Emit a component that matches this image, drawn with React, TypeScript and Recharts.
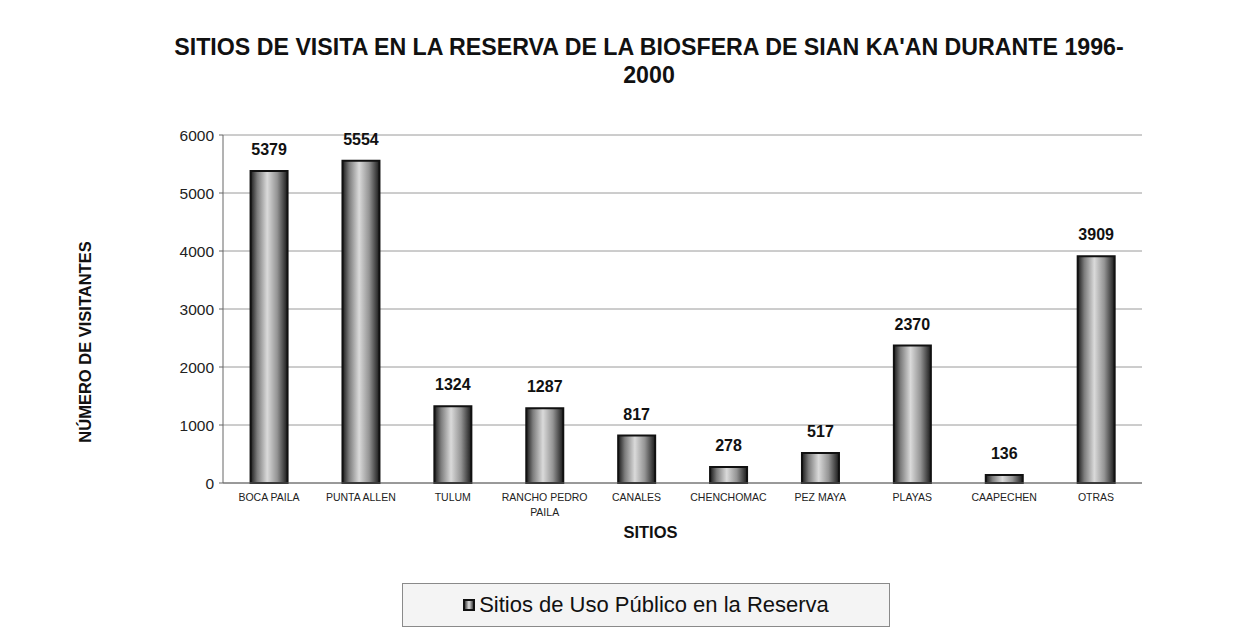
import { BarChart, Bar, XAxis, YAxis, CartesianGrid, Legend, LabelList } from 'recharts';

const sitios = ['BOCA PAILA', 'PUNTA ALLEN', 'TULUM', 'RANCHO PEDRO PAILA', 'CANALES', 'CHENCHOMAC', 'PEZ MAYA', 'PLAYAS', 'CAAPECHEN', 'OTRAS'];
const visitantes = [5379, 5554, 1324, 1287, 817, 278, 517, 2370, 136, 3909];
const yTicks = [0, 1000, 2000, 3000, 4000, 5000, 6000];

const data = sitios.map((sitio, i) => ({ sitio, visitantes: visitantes[i] }));

const FONT = 'Arial, "Liberation Sans", Helvetica, sans-serif';

// greedy wrap, ~14 chars per line fits the category width
function wrap(label: string, max = 14) {
  const lines: string[] = [];
  let cur = '';
  for (const w of label.split(' ')) {
    if (cur && (cur + ' ' + w).length > max) {
      lines.push(cur);
      cur = w;
    } else {
      cur = cur ? cur + ' ' + w : w;
    }
  }
  if (cur) lines.push(cur);
  return lines;
}

function SitioTick({ x, y, payload }: any) {
  return (
    <text x={x} y={y + 10} textAnchor="middle" fontSize={10.5} fill="#222" fontFamily={FONT}>
      {wrap(payload.value).map((line, i) => (
        <tspan key={i} x={x} dy={i === 0 ? 0 : 15}>{line}</tspan>
      ))}
    </text>
  );
}

function LegendBox() {
  return (
    <div style={{
      width: 488, height: 44, border: '1px solid #8a8a8a', background: '#f4f4f4', boxSizing: 'border-box',
      display: 'flex', alignItems: 'center', justifyContent: 'center', fontFamily: FONT, fontSize: 22, color: '#111',
    }}>
      <span style={{
        display: 'inline-block', width: 8, height: 8, border: '2px solid #111', marginRight: 4,
        background: 'linear-gradient(90deg, #444 0%, #e0e0e0 50%, #444 100%)',
      }} />
      Sitios de Uso Público en la Reserva
    </div>
  );
}

export default function App() {
  return (
    <div style={{ position: 'absolute', left: 0, top: 0, width: 1246, height: 634, background: '#fff' }}>
      <div style={{
        position: 'absolute', top: 33, left: 649 - 550, width: 1100, textAlign: 'center',
        fontFamily: FONT, fontWeight: 'bold', fontSize: 23.2, lineHeight: '28px', color: '#111',
      }}>
        SITIOS DE VISITA EN LA RESERVA DE LA BIOSFERA DE SIAN KA'AN DURANTE 1996-<br />2000
      </div>
      <BarChart width={1246} height={634} data={data} barCategoryGap="30%"
        margin={{ top: 135, right: 104, bottom: 91, left: 0 }}>
        <defs>
          <linearGradient id="barGrad" x1="0" y1="0" x2="1" y2="0">
            <stop offset="0%" stopColor="#1a1a1a" />
            <stop offset="18%" stopColor="#7c7c7c" />
            <stop offset="45%" stopColor="#dadada" />
            <stop offset="72%" stopColor="#949494" />
            <stop offset="100%" stopColor="#1a1a1a" />
          </linearGradient>
        </defs>
        <CartesianGrid vertical={false} stroke="#9a9a9a" />
        <XAxis dataKey="sitio" height={60} interval={0} tickLine={false} tick={<SitioTick />}
          axisLine={{ stroke: '#666' }}
          label={{ value: 'SITIOS', position: 'insideBottom', offset: 0, dx: -32, dy: -5,
            style: { fontFamily: FONT, fontWeight: 'bold', fontSize: 16.5, fill: '#111' } }} />
        <YAxis width={223} domain={[0, 6000]} ticks={yTicks} interval={0}
          tickSize={4} tickMargin={5} tickLine={{ stroke: '#666' }} axisLine={{ stroke: '#666' }}
          tick={{ fontSize: 15.5, fill: '#222', fontFamily: FONT }}
          label={{ value: 'NÚMERO DE VISITANTES', angle: -90, position: 'insideLeft', dx: 80, dy: 33,
            style: { fontFamily: FONT, fontWeight: 'bold', fontSize: 16.5, fill: '#111', textAnchor: 'middle' } }} />
        <YAxis yAxisId="borde" orientation="right" width={0} domain={[0, 6000]} tick={false}
          tickLine={false} axisLine={{ stroke: '#888' }} />
        <Legend verticalAlign="middle" align="center" content={<LegendBox />}
          wrapperStyle={{ top: 583, left: 402, width: 488, height: 44 }} />
        <Bar dataKey="visitantes" name="Sitios de Uso Público en la Reserva" fill="url(#barGrad)"
          stroke="#111" strokeWidth={2} isAnimationActive={false}>
          <LabelList dataKey="visitantes" position="top" offset={16}
            style={{ fontFamily: FONT, fontWeight: 'bold', fontSize: 16, fill: '#111' }} />
        </Bar>
      </BarChart>
    </div>
  );
}
